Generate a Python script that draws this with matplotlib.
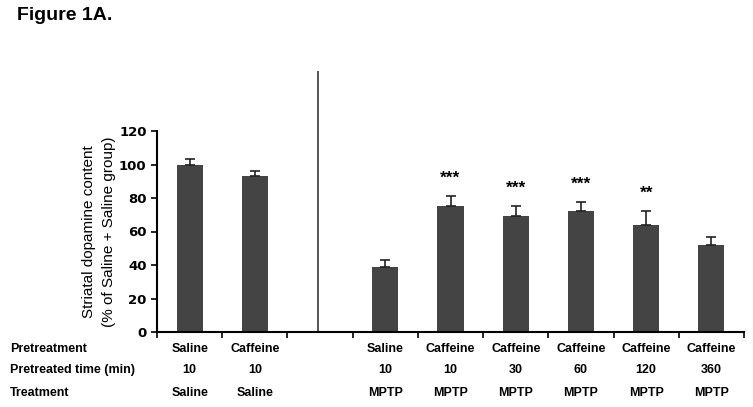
import matplotlib
matplotlib.use("Agg")
import matplotlib.pyplot as plt
import numpy as np

plt.rcParams['font.family'] = ['Liberation Sans', 'DejaVu Sans']

pretreatment = ["Saline", "Caffeine", "", "Saline", "Caffeine", "Caffeine", "Caffeine", "Caffeine", "Caffeine"]
pretreated_time = ["10", "10", "", "10", "10", "30", "60", "120", "360"]
treatment = ["Saline", "Saline", "", "MPTP", "MPTP", "MPTP", "MPTP", "MPTP", "MPTP"]
values = [100, 93, None, 39, 75, 69, 72.5, 64, 52]
errors = [3.3, 3.4, None, 4, 6.4, 6.1, 5, 8.5, 5]
stars = ["", "", "", "", "***", "***", "***", "**", ""]
yticks = [0, 20, 40, 60, 80, 100, 120]

fig = plt.figure(figsize=(7.53, 4.07), dpi=100)
ax = fig.add_axes([157/753, 1-332/407, (744-157)/753, (332-131)/407])

n = len(values)
x = np.arange(n)
for i in range(n):
    if values[i] is None:
        continue
    ax.bar(x[i], values[i], width=0.4, color='#444444', zorder=2)
    ax.errorbar(x[i], values[i], yerr=[[0], [errors[i]]], fmt='none',
                ecolor='#222222', elinewidth=1.2, capsize=3.5, capthick=1.2, zorder=3)
    if stars[i]:
        ax.text(x[i], values[i] + errors[i] + 6, stars[i], ha='center', va='bottom',
                fontsize=12.5, fontweight='bold')

ax.set_xlim(-0.5, n - 0.5)
ax.set_ylim(0, 120)
ax.set_yticks(yticks)
ax.set_yticklabels([str(t) for t in yticks], fontweight='bold', fontsize=9.5,
                   family='DejaVu Sans')
ax.set_xticks(np.arange(-0.5, n, 1.0))
ax.set_xticklabels([])
ax.tick_params(axis='both', direction='out', length=4, width=1.2, colors='black')
for s in ['top', 'right']:
    ax.spines[s].set_visible(False)
for s in ['left', 'bottom']:
    ax.spines[s].set_linewidth(1.5)

ax.set_ylabel("Striatal dopamine content\n(% of Saline + Saline group)", fontsize=11,
              labelpad=2, linespacing=1.6)

# separator line
ax.plot([1.97, 1.97], [0, 155], color='#555555', lw=1.4, clip_on=False, zorder=1)

# table rows
row_labels = ["Pretreatment", "Pretreated time (min)", "Treatment"]
rows = [pretreatment, pretreated_time, treatment]
row_y = [349, 370, 393]
for lab, row, yp in zip(row_labels, rows, row_y):
    fy = 1 - yp/407
    fig.text(10/753, fy, lab, ha='left', va='center', fontsize=9, fontweight='bold')
    for i, t in enumerate(row):
        if t:
            xd = ax.transData.transform((x[i], 0))[0]
            fig.text(xd/753 * 100/fig.dpi, fy, t, ha='center', va='center',
                     fontsize=9, fontweight='bold')

fig.text(17/753, 1-15/407, "Figure 1A.", ha='left', va='center', fontsize=14,
         fontweight='bold')

fig.savefig("out.png", dpi=100)
